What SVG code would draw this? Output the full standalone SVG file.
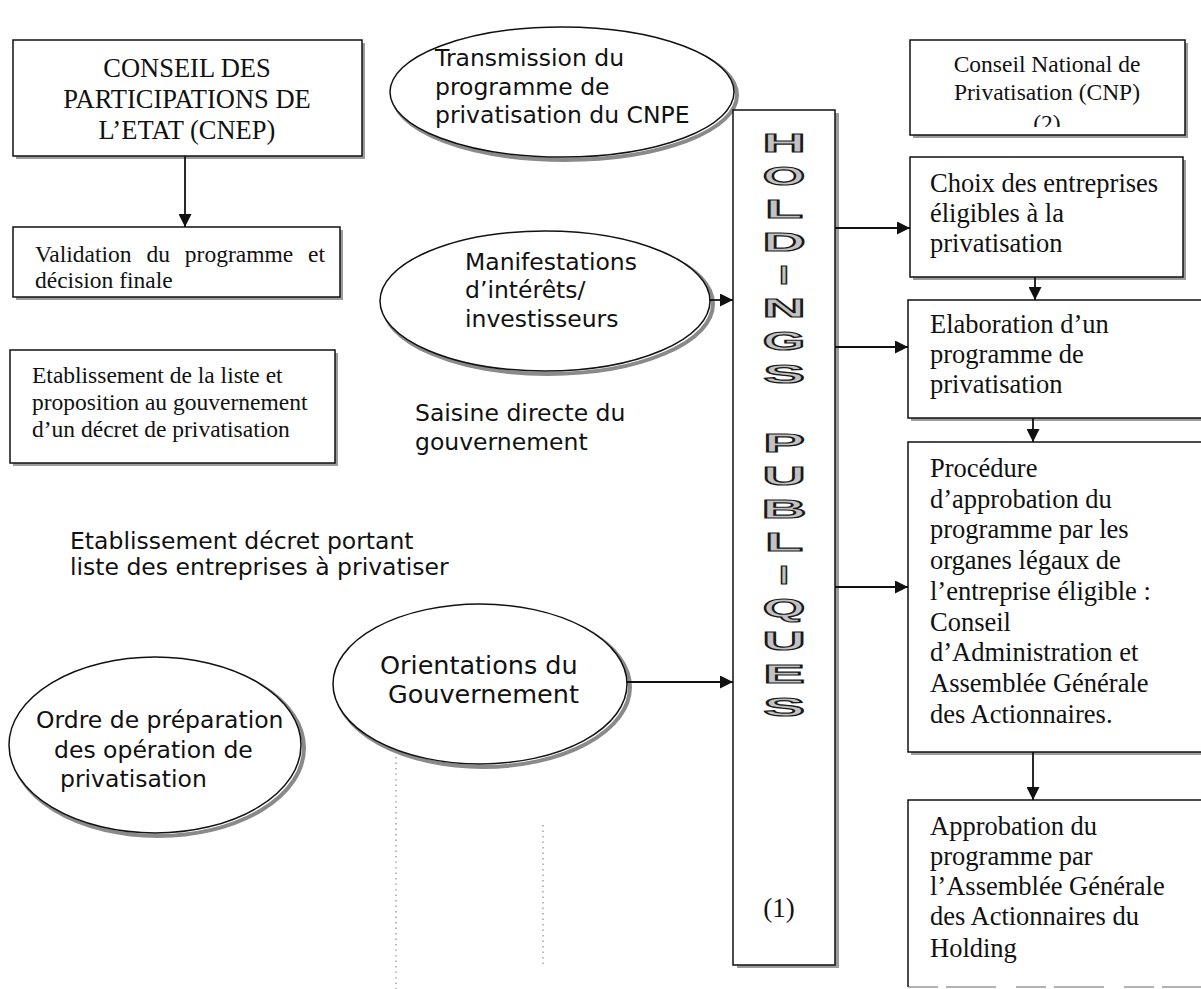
<svg xmlns="http://www.w3.org/2000/svg" width="1201" height="989" viewBox="0 0 1201 989">
<style>
.bg{fill:#fff}
.box{fill:#fff;stroke:#111;stroke-width:1.5}
.sh{fill:#9c9c9c}
.esh{fill:none;stroke:#8a8a8a;stroke-width:4}
.ell{fill:#fff;stroke:#111;stroke-width:1.5}
.ser{font-family:"Liberation Serif","Times New Roman",serif;fill:#111}
.sans{font-family:"DejaVu Sans",Verdana,sans-serif;fill:#111;font-size:23.5px}
.con{fill:none;stroke:#111;stroke-width:1.8;marker-end:url(#ah)}
.hl{font-family:"Liberation Sans",Arial,sans-serif;font-weight:bold;font-size:26px;fill:#c2c2c2;stroke:#1a1a1a;stroke-width:1.2;text-anchor:middle}
.dot{stroke:#777;stroke-width:1;stroke-dasharray:1.5 4;fill:none}
</style>
<defs>
<marker id="ah" viewBox="0 0 10 10" refX="10" refY="5" markerWidth="15" markerHeight="13" markerUnits="userSpaceOnUse" orient="auto">
<path d="M0,0 L10,5 L0,10 z" fill="#111"/>
</marker>
<clipPath id="cnpclip"><rect x="911" y="41" width="273" height="86"/></clipPath>
</defs>
<rect class="bg" x="0" y="0" width="1201" height="989"/>

<g id="faint-lines">
<line class="dot" x1="396" y1="702" x2="396" y2="989"/>
<line class="dot" x1="543" y1="825" x2="543" y2="965"/>
</g>

<g id="cnep">
<rect class="sh" x="16" y="43" width="349" height="116"/>
<rect class="box" x="13" y="40" width="349" height="116"/>
<text class="ser" font-size="26.5" text-anchor="middle"><tspan x="187" y="77">CONSEIL DES</tspan><tspan x="187" y="108">PARTICIPATIONS DE</tspan><tspan x="187" y="139">L’ETAT (CNEP)</tspan></text>
</g>

<g id="validation">
<rect class="sh" x="16" y="230" width="327" height="70"/>
<rect class="box" x="13" y="227" width="327" height="70"/>
<text class="ser" font-size="23.5"><tspan x="35" y="262" word-spacing="9">Validation du programme et</tspan><tspan x="35" y="288">décision finale</tspan></text>
</g>

<g id="etablissement-liste">
<rect class="sh" x="13" y="353" width="325" height="113"/>
<rect class="box" x="10" y="350" width="325" height="113"/>
<text class="ser" font-size="23.5"><tspan x="32" y="383">Etablissement de la liste et</tspan><tspan x="32" y="410">proposition au gouvernement</tspan><tspan x="32" y="437">d’un décret de privatisation</tspan></text>
</g>

<g id="saisine">
<text class="sans"><tspan x="415" y="421">Saisine directe du</tspan><tspan x="415" y="450">gouvernement</tspan></text>
</g>

<g id="etablissement-decret">
<text class="sans"><tspan x="70" y="549">Etablissement décret portant</tspan><tspan x="70" y="575">liste des entreprises à privatiser</tspan></text>
</g>

<g id="transmission">
<ellipse class="esh" cx="565" cy="95" rx="172" ry="65"/>
<ellipse class="ell" cx="562" cy="92" rx="172" ry="65"/>
<text class="sans"><tspan x="435" y="66">Transmission du</tspan><tspan x="435" y="95">programme de</tspan><tspan x="435" y="123">privatisation du CNPE</tspan></text>
</g>

<g id="manifestations">
<ellipse class="esh" cx="548" cy="304" rx="165" ry="70"/>
<ellipse class="ell" cx="545" cy="301" rx="165" ry="70"/>
<text class="sans"><tspan x="465" y="270">Manifestations</tspan><tspan x="465" y="298">d’intérêts/</tspan><tspan x="465" y="327">investisseurs</tspan></text>
</g>

<g id="orientations">
<ellipse class="esh" cx="483" cy="687" rx="147" ry="80"/>
<ellipse class="ell" cx="480" cy="684" rx="147" ry="80"/>
<text class="sans" style="font-size:25.5px"><tspan x="380" y="674">Orientations du</tspan><tspan x="388" y="703">Gouvernement</tspan></text>
</g>

<g id="ordre">
<ellipse class="esh" cx="158" cy="748" rx="146" ry="88"/>
<ellipse class="ell" cx="155" cy="745" rx="146" ry="88"/>
<text class="sans"><tspan x="36" y="728">Ordre de préparation</tspan><tspan x="54" y="758">des opération de</tspan><tspan x="60" y="787">privatisation</tspan></text>
</g>

<g id="holdings">
<rect class="sh" x="737" y="113" width="102" height="855"/>
<rect class="box" x="733" y="110" width="102" height="855"/>
<text class="hl" transform="translate(784,152) scale(2.3,1)">H</text>
<text class="hl" transform="translate(784,185) scale(2.1,1)">O</text>
<text class="hl" transform="translate(784,218) scale(2.4,1)">L</text>
<text class="hl" transform="translate(784,251) scale(2.3,1)">D</text>
<text class="hl" transform="translate(784,284) scale(1.3,1)">I</text>
<text class="hl" transform="translate(784,317) scale(2.3,1)">N</text>
<text class="hl" transform="translate(784,350) scale(2.1,1)">G</text>
<text class="hl" transform="translate(784,383) scale(2.4,1)">S</text>
<text class="hl" transform="translate(784,452) scale(2.4,1)">P</text>
<text class="hl" transform="translate(784,485) scale(2.3,1)">U</text>
<text class="hl" transform="translate(784,518) scale(2.4,1)">B</text>
<text class="hl" transform="translate(784,551) scale(2.4,1)">L</text>
<text class="hl" transform="translate(784,584) scale(1.3,1)">I</text>
<text class="hl" transform="translate(784,617) scale(2.1,1)">Q</text>
<text class="hl" transform="translate(784,650) scale(2.3,1)">U</text>
<text class="hl" transform="translate(784,683) scale(2.4,1)">E</text>
<text class="hl" transform="translate(784,716) scale(2.4,1)">S</text>
<text class="ser" font-size="27" text-anchor="middle" x="779" y="917">(1)</text>
</g>

<g id="cnp">
<rect class="sh" x="913" y="43" width="275" height="95"/>
<rect class="box" x="910" y="40" width="275" height="95"/>
<text class="ser" font-size="23.5" text-anchor="middle" clip-path="url(#cnpclip)"><tspan x="1047" y="72">Conseil National de</tspan><tspan x="1047" y="100">Privatisation (CNP)</tspan><tspan x="1047" y="131">(2)</tspan></text>
</g>

<g id="choix">
<rect class="sh" x="913" y="160" width="273" height="120"/>
<rect class="box" x="910" y="157" width="273" height="120"/>
<text class="ser" font-size="26.5"><tspan x="930" y="192">Choix des entreprises</tspan><tspan x="930" y="222">éligibles à la</tspan><tspan x="930" y="252">privatisation</tspan></text>
</g>

<g id="elaboration">
<rect class="sh" x="911" y="303" width="300" height="118"/>
<rect class="box" x="908" y="300" width="300" height="118"/>
<text class="ser" font-size="26.5"><tspan x="930" y="333">Elaboration d’un</tspan><tspan x="930" y="363">programme de</tspan><tspan x="930" y="393">privatisation</tspan></text>
</g>

<g id="procedure">
<rect class="sh" x="911" y="445" width="300" height="310"/>
<rect class="box" x="908" y="442" width="300" height="310"/>
<text class="ser" font-size="26.5"><tspan x="930" y="477">Procédure</tspan><tspan x="930" y="507.7">d’approbation du</tspan><tspan x="930" y="538.4">programme par les</tspan><tspan x="930" y="569">organes légaux de</tspan><tspan x="930" y="599.8">l’entreprise éligible :</tspan><tspan x="930" y="630.5">Conseil</tspan><tspan x="930" y="661">d’Administration et</tspan><tspan x="930" y="692">Assemblée Générale</tspan><tspan x="930" y="722.6">des Actionnaires.</tspan></text>
</g>

<g id="approbation">
<path d="M1208,800 H908 V987" fill="none" stroke="#111" stroke-width="1.5"/>
<path d="M908,987 H1201" fill="none" stroke="#666" stroke-width="1.2" stroke-dasharray="30 8 50 20"/>
<text class="ser" font-size="26.5"><tspan x="930" y="835">Approbation du</tspan><tspan x="930" y="865">programme par</tspan><tspan x="930" y="895">l’Assemblée Générale</tspan><tspan x="930" y="925">des Actionnaires du</tspan><tspan x="930" y="957">Holding</tspan></text>
</g>

<g id="connectors">
<path class="con" d="M185,156 V227"/>
<path class="con" d="M709,300 H733"/>
<path class="con" d="M835,228 H910"/>
<path class="con" d="M1035,277 V300"/>
<path class="con" d="M835,347 H908"/>
<path class="con" d="M1033,418 V442"/>
<path class="con" d="M835,587 H908"/>
<path class="con" d="M626,682 H733"/>
<path class="con" d="M1033,752 V800"/>
</g>
</svg>
